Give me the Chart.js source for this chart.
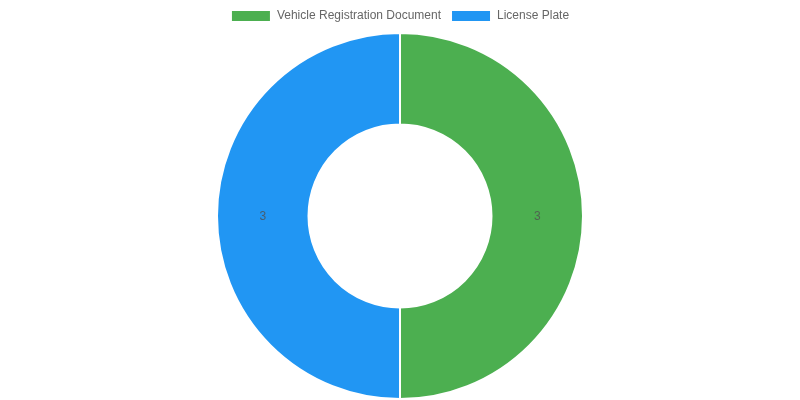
<!DOCTYPE html>
<html>
<head>
<meta charset="utf-8">
<script src="https://cdn.jsdelivr.net/npm/chart.js@4"></script>
<style>
  html, body { margin: 0; padding: 0; background: #fff; }
  .wrap { width: 800px; height: 400px; }
</style>
</head>
<body>
<div class="wrap"><canvas id="c"></canvas></div>
<script>
var LABELS = ['Vehicle Registration Document', 'License Plate'];
var VALUES = [3, 3];
var COLORS = ['#4CAF50', '#2196F3'];

// draw each slice's value at the middle of its arc
var valueLabels = {
  id: 'valueLabels',
  afterDatasetsDraw: function (chart) {
    var ctx = chart.ctx;
    ctx.save();
    ctx.font = '12px "Liberation Sans", Arial, sans-serif';
    ctx.fillStyle = 'rgba(80,80,80,0.8)';
    ctx.textAlign = 'center';
    ctx.textBaseline = 'middle';
    chart.getDatasetMeta(0).data.forEach(function (arc, i) {
      var p = arc.tooltipPosition();
      ctx.fillText(String(chart.data.datasets[0].data[i]), p.x, p.y + 1);
    });
    ctx.restore();
  }
};

Chart.defaults.font.family = '"Liberation Sans", Arial, sans-serif';
Chart.defaults.font.size = 12;
Chart.defaults.color = '#666';

new Chart(document.getElementById('c'), {
  type: 'doughnut',
  data: {
    labels: LABELS,
    datasets: [{ data: VALUES, backgroundColor: COLORS, borderColor: '#fff', borderWidth: 2 }]
  },
  options: {
    responsive: true,
    maintainAspectRatio: false,
    animation: false,
    cutout: '50%',
    plugins: {
      legend: { position: 'top', labels: { color: '#666' } },
      tooltip: { enabled: false }
    }
  },
  plugins: [valueLabels]
});
</script>
</body>
</html>
